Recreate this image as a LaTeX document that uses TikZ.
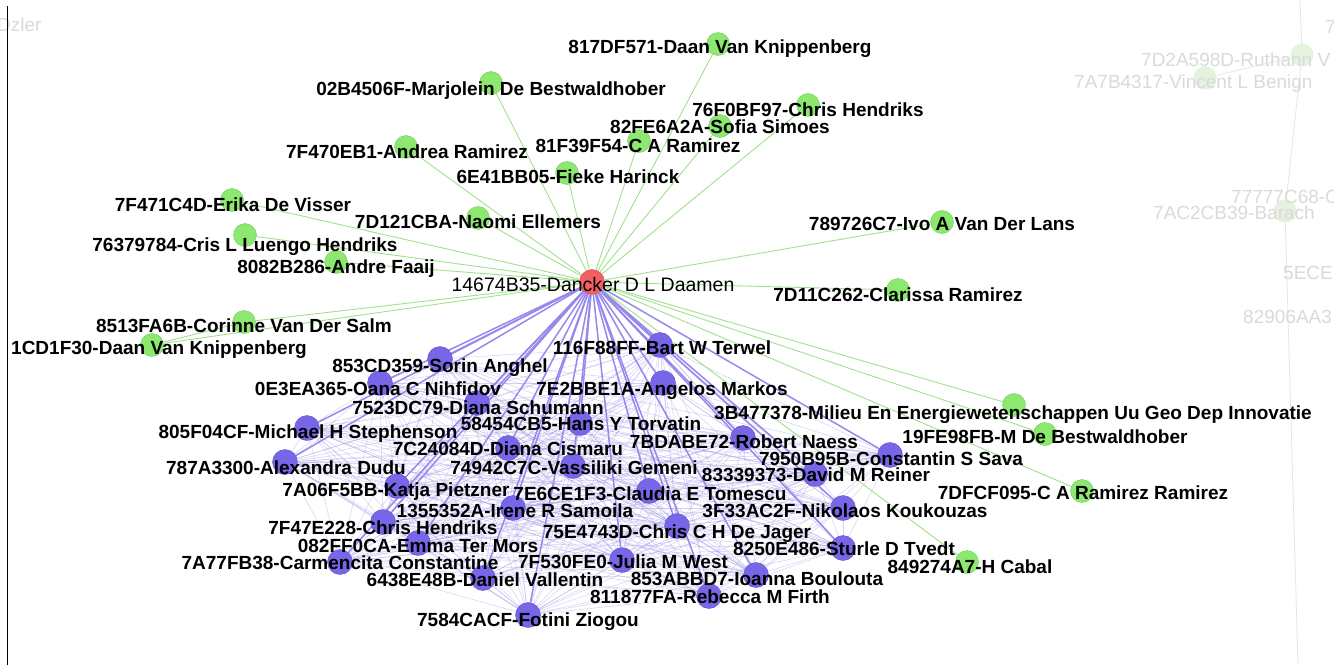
\documentclass[tikz,border=0pt]{standalone}
\usepackage{fontspec}
\setmainfont{Liberation Sans}
\usetikzlibrary{backgrounds}
\definecolor{grnfill}{RGB}{140,232,110}
\definecolor{grnline}{RGB}{115,205,95}
\definecolor{grnedge}{RGB}{160,226,140}
\definecolor{prpfill}{RGB}{120,102,232}
\definecolor{prpline}{RGB}{95,80,205}
\definecolor{prpedge}{RGB}{150,136,236}
\definecolor{prpweb}{RGB}{150,140,230}
\definecolor{redfill}{RGB}{242,96,100}
\definecolor{redline}{RGB}{205,70,80}
\definecolor{fadefill}{RGB}{228,242,222}
\definecolor{fadetext}{RGB}{218,218,218}
\definecolor{fadeedge}{RGB}{230,230,230}

\begin{document}
\begin{tikzpicture}[x=1pt,y=-1pt,
  gpt/.style={circle,fill=grnfill,draw=grnline,inner sep=0pt,minimum size=23pt},
  ppt/.style={circle,fill=prpfill,draw=prpline,inner sep=0pt,minimum size=25pt},
  hpt/.style={circle,fill=redfill,draw=redline,inner sep=0pt,minimum size=25pt},
  fpt/.style={circle,fill=fadefill,inner sep=0pt,minimum size=23pt},
  lbl/.style={font=\fontsize{19}{19}\selectfont\bfseries,inner sep=0pt,text height=13.6pt,text depth=0pt},
  flbl/.style={font=\fontsize{19}{19}\selectfont,text=fadetext,inner sep=0pt,text height=13.6pt,text depth=0pt,anchor=west},
  gedge/.style={draw=grnedge,line width=0.9pt},
  pedge/.style={draw=prpedge,line width=1.5pt},
  wedge/.style={draw=prpweb,line width=0.5pt,opacity=0.4},
  fedge/.style={draw=fadeedge,line width=0.8pt}]

\useasboundingbox (0,0) rectangle (1334,665);

\node[fpt] (f1) at (1302,55){};
\node[fpt] (f2) at (1205,78){};
\node[fpt] (f3) at (1285,211){};
\coordinate (ftop) at (1300,0);
\coordinate (fbot) at (1298,665);
\node[flbl] (f0l) at (1325,27) {7};
\node[flbl] (f1l) at (1141,60) {7D2A598D-Ruthann V};
\node[flbl] (f2l) at (1074,82) {7A7B4317-Vincent L Benign};
\node[flbl] (f3l) at (1231,197) {77777C68-C};
\node[flbl] (f4l) at (1153,213) {7AC2CB39-Barach};
\node[flbl] (f5l) at (1283,273) {5ECE};
\node[flbl] (f6l) at (1243,317) {82906AA3};
\node[flbl] (f7l) at (-3,25) {Dzler};

\draw[black,line width=0.9pt] (7,6) -- (7,665);

\node[hpt] (h) at (592,282){};

\node[gpt] (g1) at (718,44){};
\node[gpt] (g2) at (491,83){};
\node[gpt] (g3) at (808,105){};
\node[gpt] (g4) at (720,126){};
\node[gpt] (g5) at (639,141){};
\node[gpt] (g6) at (406,147){};
\node[gpt] (g7) at (567,173){};
\node[gpt] (g8) at (232,200){};
\node[gpt] (g9) at (478,218){};
\node[gpt] (g10) at (942,222){};
\node[gpt] (g11) at (245,235){};
\node[gpt] (g12) at (336,262){};
\node[gpt] (g13) at (898,290){};
\node[gpt] (g14) at (244,322){};
\node[gpt] (g15) at (152,345){};
\node[gpt] (g16) at (1014,405){};
\node[gpt] (g17) at (1045,434){};
\node[gpt] (g18) at (1082,491){};
\node[gpt] (g19) at (967,562){};

\node[ppt] (p1) at (660,345){};
\node[ppt] (p2) at (440,359){};
\node[ppt] (p3) at (380,383){};
\node[ppt] (p4) at (663,383){};
\node[ppt] (p5) at (477,403){};
\node[ppt] (p6) at (580,423){};
\node[ppt] (p7) at (307,428){};
\node[ppt] (p8) at (743,438){};
\node[ppt] (p9) at (508,448){};
\node[ppt] (p10) at (285,462){};
\node[ppt] (p11) at (890,455){};
\node[ppt] (p12) at (573,466){};
\node[ppt] (p13) at (815,474){};
\node[ppt] (p14) at (397,486){};
\node[ppt] (p15) at (649,491){};
\node[ppt] (p16) at (843,508){};
\node[ppt] (p17) at (513,508){};
\node[ppt] (p18) at (383,522){};
\node[ppt] (p19) at (677,526){};
\node[ppt] (p20) at (418,543){};
\node[ppt] (p21) at (843,548){};
\node[ppt] (p22) at (340,562){};
\node[ppt] (p23) at (622,560){};
\node[ppt] (p24) at (483,578){};
\node[ppt] (p25) at (756,575){};
\node[ppt] (p26) at (709,596){};
\node[ppt] (p27) at (528,615){};

\begin{scope}[on background layer]
  \fill[white] (0,0) rectangle (1334,665);
  \draw[fedge] (ftop) -- (f1);
  \draw[fedge] (f2) -- (f1);
  \draw[fedge] (f1) -- (f3);
  \draw[fedge] (f3) -- (fbot);
  \foreach \i [evaluate=\i as \k using int(\i+1)] in {1,...,26}
    \foreach \j in {\k,...,27}
      \draw[wedge] (p\i) -- (p\j);
  \foreach \i in {1,...,19}
    \draw[gedge] (h) -- (g\i);
  \draw[gedge] (g14) -- (g15);
  \foreach \i in {1,...,27}
    \draw[pedge] (h) -- (p\i);
\end{scope}

\node[lbl,font=\fontsize{19.5}{19.5}\selectfont] (hl) at (593,285) {14674B35-Dancker D L Daamen};

\node[lbl] (g1l) at (720,47) {817DF571-Daan Van Knippenberg};
\node[lbl] (g2l) at (491,89) {02B4506F-Marjolein De Bestwaldhober};
\node[lbl] (g3l) at (808,110) {76F0BF97-Chris Hendriks};
\node[lbl] (g4l) at (720,127) {82FE6A2A-Sofia Simoes};
\node[lbl] (g5l) at (638,146) {81F39F54-C A Ramirez};
\node[lbl] (g6l) at (407,152) {7F470EB1-Andrea Ramirez};
\node[lbl] (g7l) at (568,177) {6E41BB05-Fieke Harinck};
\node[lbl] (g8l) at (233,205) {7F471C4D-Erika De Visser};
\node[lbl] (g9l) at (478,222) {7D121CBA-Naomi Ellemers};
\node[lbl] (g10l) at (942,224) {789726C7-Ivo A Van Der Lans};
\node[lbl] (g11l) at (245,245) {76379784-Cris L Luengo Hendriks};
\node[lbl] (g12l) at (336,267) {8082B286-Andre Faaij};
\node[lbl] (g13l) at (898,295) {7D11C262-Clarissa Ramirez};
\node[lbl] (g14l) at (244,326) {8513FA6B-Corinne Van Der Salm};
\node[lbl] (g15l) at (159,348) {1CD1F30-Daan Van Knippenberg};
\node[lbl] (g16l) at (1013,413) {3B477378-Milieu En Energiewetenschappen Uu Geo Dep Innovatie};
\node[lbl] (g17l) at (1045,437) {19FE98FB-M De Bestwaldhober};
\node[lbl] (g18l) at (1083,493) {7DFCF095-C A Ramirez Ramirez};
\node[lbl] (g19l) at (970,567) {849274A7-H Cabal};

\node[lbl] (p1l) at (662,348) {116F88FF-Bart W Terwel};
\node[lbl] (p2l) at (440,366) {853CD359-Sorin Anghel};
\node[lbl] (p3l) at (378,389) {0E3EA365-Oana C Nihfidov};
\node[lbl] (p4l) at (662,389) {7E2BBE1A-Angelos Markos};
\node[lbl] (p5l) at (478,408) {7523DC79-Diana Schumann};
\node[lbl] (p6l) at (581,424) {58454CB5-Hans Y Torvatin};
\node[lbl] (p7l) at (308,432) {805F04CF-Michael H Stephenson};
\node[lbl] (p8l) at (744,442) {7BDABE72-Robert Naess};
\node[lbl] (p9l) at (508,449) {7C24084D-Diana Cismaru};
\node[lbl] (p10l) at (286,468) {787A3300-Alexandra Dudu};
\node[lbl] (p11l) at (891,459) {7950B95B-Constantin S Sava};
\node[lbl] (p12l) at (574,468) {74942C7C-Vassiliki Gemeni};
\node[lbl] (p13l) at (816,475) {83339373-David M Reiner};
\node[lbl] (p14l) at (396,490) {7A06F5BB-Katja Pietzner};
\node[lbl] (p15l) at (650,494) {7E6CE1F3-Claudia E Tomescu};
\node[lbl] (p16l) at (845,511) {3F33AC2F-Nikolaos Koukouzas};
\node[lbl] (p17l) at (515,511) {1355352A-Irene R Samoila};
\node[lbl] (p18l) at (383,528) {7F47E228-Chris Hendriks};
\node[lbl] (p19l) at (677,532) {75E4743D-Chris C H De Jager};
\node[lbl] (p20l) at (418,546) {082FF0CA-Emma Ter Mors};
\node[lbl] (p21l) at (844,549) {8250E486-Sturle D Tvedt};
\node[lbl] (p22l) at (340,563) {7A77FB38-Carmencita Constantine};
\node[lbl] (p23l) at (623,562) {7F530FE0-Julia M West};
\node[lbl] (p24l) at (485,580) {6438E48B-Daniel Vallentin};
\node[lbl] (p25l) at (757,579) {853ABBD7-Ioanna Boulouta};
\node[lbl] (p26l) at (710,597) {811877FA-Rebecca M Firth};
\node[lbl] (p27l) at (528,620) {7584CACF-Fotini Ziogou};
\end{tikzpicture}
\end{document}
